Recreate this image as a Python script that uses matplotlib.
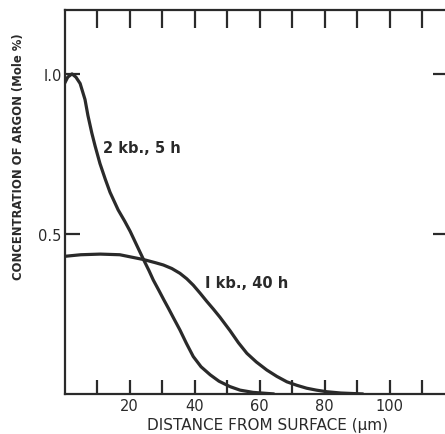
import matplotlib
matplotlib.use('Agg')
import matplotlib.pyplot as plt

# Argon concentration profiles (distance in um, concentration in mole %)
dist_2kb = [0, 1, 2.3, 3.5, 4.8, 6.3, 7.2, 8.4, 9.4, 10.9, 12.5, 14, 16.5, 18.5, 20.2,
            22.2, 24.3, 26, 27.3, 29, 30.5, 32, 33.5, 35.5, 37.5, 39.6, 42, 44.8, 47.5,
            50.9, 54, 58, 64.6]
conc_2kb = [0.97, 0.99, 1.0, 0.99, 0.97, 0.92, 0.87, 0.815, 0.775, 0.72, 0.672, 0.63, 0.575,
            0.54, 0.508, 0.465, 0.42, 0.385, 0.356, 0.324, 0.295, 0.267, 0.238, 0.2, 0.158,
            0.117, 0.085, 0.06, 0.04, 0.023, 0.012, 0.005, 0.0]

dist_1kb = [0, 5, 11, 17, 24.3, 28, 30.4, 33, 35.5, 37.6, 39.6, 41.7, 43.7, 45.8, 47.8,
            50.9, 53.5, 56.1, 59, 62.2, 65.3, 68.4, 71.5, 74.5, 77.5, 80.7, 85, 92]
conc_1kb = [0.43, 0.435, 0.437, 0.435, 0.42, 0.41, 0.403, 0.392, 0.377, 0.36, 0.34, 0.315,
            0.29, 0.265, 0.24, 0.198, 0.16, 0.127, 0.1, 0.075, 0.055, 0.038, 0.027, 0.018,
            0.012, 0.007, 0.003, 0.0]

labels = ['2 kb., 5 h', 'I kb., 40 h']
xticks = [10, 20, 30, 40, 50, 60, 70, 80, 90, 100, 110]
xticklabels = ['', '20', '', '40', '', '60', '', '80', '', '100', '']
yticks = [0.5, 1.0]
yticklabels = ['0.5', 'I.0']

ink = '#2a2a2a'
plt.rcParams['font.family'] = ['DejaVu Sans']

fig = plt.figure(figsize=(4.45, 4.35), dpi=100)
ax = fig.add_axes([0.145, 0.092, 0.862, 0.883])

ax.plot(dist_2kb, conc_2kb, color=ink, lw=2.3, solid_capstyle='butt')
ax.plot(dist_1kb, conc_1kb, color=ink, lw=2.3, solid_capstyle='butt')

ax.text(11.8, 0.77, labels[0], fontsize=10.5, fontweight='bold', color=ink, va='center')
ax.text(43.2, 0.347, labels[1], fontsize=10.5, fontweight='bold', color=ink, va='center')

ax.set_xlim(0, 118)
ax.set_ylim(0, 1.2)

for s in ax.spines.values():
    s.set_linewidth(1.6)
    s.set_color(ink)

ax.set_xticks(xticks)
ax.set_xticklabels(xticklabels)
ax.set_yticks(yticks)
ax.set_yticklabels(yticklabels)
ax.tick_params(axis='x', direction='in', length=10, width=1.6, color=ink, top=True,
               labelsize=10.5, labelcolor=ink, pad=3)
ax.tick_params(axis='y', direction='in', length=11, width=1.6, color=ink, right=True,
               labelsize=10.5, labelcolor=ink, pad=2)
for t in ax.xaxis.get_major_ticks():
    t.tick2line.set_markersize(13)

ax.set_xlabel('DISTANCE FROM SURFACE (\u03bcm)', fontsize=11, color=ink, va='center')
ax.xaxis.set_label_coords(0.53, -0.08)
ax.set_ylabel('CONCENTRATION OF ARGON (Mole %)', fontsize=8.4, fontweight='bold',
              color=ink)
ax.yaxis.set_label_coords(-0.103, 0.62)

fig.savefig('out.png', dpi=100)
